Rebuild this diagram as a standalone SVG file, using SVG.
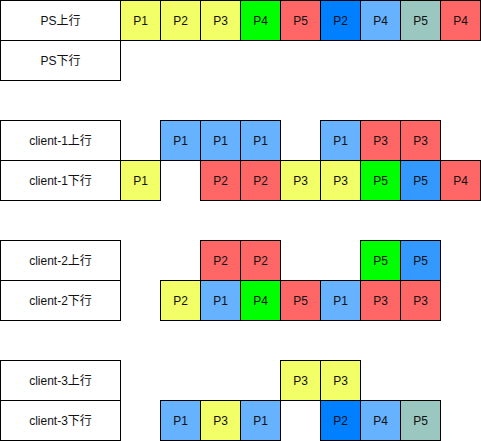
<svg xmlns="http://www.w3.org/2000/svg" width="481" height="441" viewBox="0 0 481 441">
<style>
.c{stroke:#000;stroke-width:1}
.l{fill:#fff}
.y{fill:#f3ff66}
.g{fill:#00ff00}
.r{fill:#ff6666}
.b{fill:#007fff}
.lb{fill:#66b2ff}
.m{fill:#3399ff}
.t{fill:#9ac7bf}
text{font-family:"Liberation Sans","Noto Sans CJK SC",sans-serif;font-size:12px;fill:#111;text-anchor:middle;dominant-baseline:central}
</style>
<rect width="481" height="441" fill="#fff"/>
<g id="ps-up">
<rect class="c l" x="0.5" y="0.5" width="120" height="40"/><text x="60.5" y="20.5">PS上行</text>
<rect class="c y" x="120.5" y="0.5" width="40" height="40"/><text x="140.5" y="20.5">P1</text>
<rect class="c y" x="160.5" y="0.5" width="40" height="40"/><text x="180.5" y="20.5">P2</text>
<rect class="c y" x="200.5" y="0.5" width="40" height="40"/><text x="220.5" y="20.5">P3</text>
<rect class="c g" x="240.5" y="0.5" width="40" height="40"/><text x="260.5" y="20.5">P4</text>
<rect class="c r" x="280.5" y="0.5" width="40" height="40"/><text x="300.5" y="20.5">P5</text>
<rect class="c b" x="320.5" y="0.5" width="40" height="40"/><text x="340.5" y="20.5">P2</text>
<rect class="c lb" x="360.5" y="0.5" width="40" height="40"/><text x="380.5" y="20.5">P4</text>
<rect class="c t" x="400.5" y="0.5" width="40" height="40"/><text x="420.5" y="20.5">P5</text>
<rect class="c r" x="440.5" y="0.5" width="40" height="40"/><text x="460.5" y="20.5">P4</text>
</g>
<g id="ps-down">
<rect class="c l" x="0.5" y="40.5" width="120" height="40"/><text x="60.5" y="60.5">PS下行</text>
</g>
<g id="c1-up">
<rect class="c l" x="0.5" y="120.5" width="120" height="40"/><text x="60.5" y="140.5">client-1上行</text>
<rect class="c lb" x="160.5" y="120.5" width="40" height="40"/><text x="180.5" y="140.5">P1</text>
<rect class="c lb" x="200.5" y="120.5" width="40" height="40"/><text x="220.5" y="140.5">P1</text>
<rect class="c lb" x="240.5" y="120.5" width="40" height="40"/><text x="260.5" y="140.5">P1</text>
<rect class="c lb" x="320.5" y="120.5" width="40" height="40"/><text x="340.5" y="140.5">P1</text>
<rect class="c r" x="360.5" y="120.5" width="40" height="40"/><text x="380.5" y="140.5">P3</text>
<rect class="c r" x="400.5" y="120.5" width="40" height="40"/><text x="420.5" y="140.5">P3</text>
</g>
<g id="c1-down">
<rect class="c l" x="0.5" y="160.5" width="120" height="40"/><text x="60.5" y="180.5">client-1下行</text>
<rect class="c y" x="120.5" y="160.5" width="40" height="40"/><text x="140.5" y="180.5">P1</text>
<rect class="c r" x="200.5" y="160.5" width="40" height="40"/><text x="220.5" y="180.5">P2</text>
<rect class="c r" x="240.5" y="160.5" width="40" height="40"/><text x="260.5" y="180.5">P2</text>
<rect class="c y" x="280.5" y="160.5" width="40" height="40"/><text x="300.5" y="180.5">P3</text>
<rect class="c y" x="320.5" y="160.5" width="40" height="40"/><text x="340.5" y="180.5">P3</text>
<rect class="c g" x="360.5" y="160.5" width="40" height="40"/><text x="380.5" y="180.5">P5</text>
<rect class="c m" x="400.5" y="160.5" width="40" height="40"/><text x="420.5" y="180.5">P5</text>
<rect class="c r" x="440.5" y="160.5" width="40" height="40"/><text x="460.5" y="180.5">P4</text>
</g>
<g id="c2-up">
<rect class="c l" x="0.5" y="240.5" width="120" height="40"/><text x="60.5" y="260.5">client-2上行</text>
<rect class="c r" x="200.5" y="240.5" width="40" height="40"/><text x="220.5" y="260.5">P2</text>
<rect class="c r" x="240.5" y="240.5" width="40" height="40"/><text x="260.5" y="260.5">P2</text>
<rect class="c g" x="360.5" y="240.5" width="40" height="40"/><text x="380.5" y="260.5">P5</text>
<rect class="c m" x="400.5" y="240.5" width="40" height="40"/><text x="420.5" y="260.5">P5</text>
</g>
<g id="c2-down">
<rect class="c l" x="0.5" y="280.5" width="120" height="40"/><text x="60.5" y="300.5">client-2下行</text>
<rect class="c y" x="160.5" y="280.5" width="40" height="40"/><text x="180.5" y="300.5">P2</text>
<rect class="c lb" x="200.5" y="280.5" width="40" height="40"/><text x="220.5" y="300.5">P1</text>
<rect class="c g" x="240.5" y="280.5" width="40" height="40"/><text x="260.5" y="300.5">P4</text>
<rect class="c r" x="280.5" y="280.5" width="40" height="40"/><text x="300.5" y="300.5">P5</text>
<rect class="c lb" x="320.5" y="280.5" width="40" height="40"/><text x="340.5" y="300.5">P1</text>
<rect class="c r" x="360.5" y="280.5" width="40" height="40"/><text x="380.5" y="300.5">P3</text>
<rect class="c r" x="400.5" y="280.5" width="40" height="40"/><text x="420.5" y="300.5">P3</text>
</g>
<g id="c3-up">
<rect class="c l" x="0.5" y="360.5" width="120" height="40"/><text x="60.5" y="380.5">client-3上行</text>
<rect class="c y" x="280.5" y="360.5" width="40" height="40"/><text x="300.5" y="380.5">P3</text>
<rect class="c y" x="320.5" y="360.5" width="40" height="40"/><text x="340.5" y="380.5">P3</text>
</g>
<g id="c3-down">
<rect class="c l" x="0.5" y="400.5" width="120" height="40"/><text x="60.5" y="420.5">client-3下行</text>
<rect class="c lb" x="160.5" y="400.5" width="40" height="40"/><text x="180.5" y="420.5">P1</text>
<rect class="c y" x="200.5" y="400.5" width="40" height="40"/><text x="220.5" y="420.5">P3</text>
<rect class="c lb" x="240.5" y="400.5" width="40" height="40"/><text x="260.5" y="420.5">P1</text>
<rect class="c b" x="320.5" y="400.5" width="40" height="40"/><text x="340.5" y="420.5">P2</text>
<rect class="c lb" x="360.5" y="400.5" width="40" height="40"/><text x="380.5" y="420.5">P4</text>
<rect class="c t" x="400.5" y="400.5" width="40" height="40"/><text x="420.5" y="420.5">P5</text>
</g>
<g id="connectors"/>
</svg>
